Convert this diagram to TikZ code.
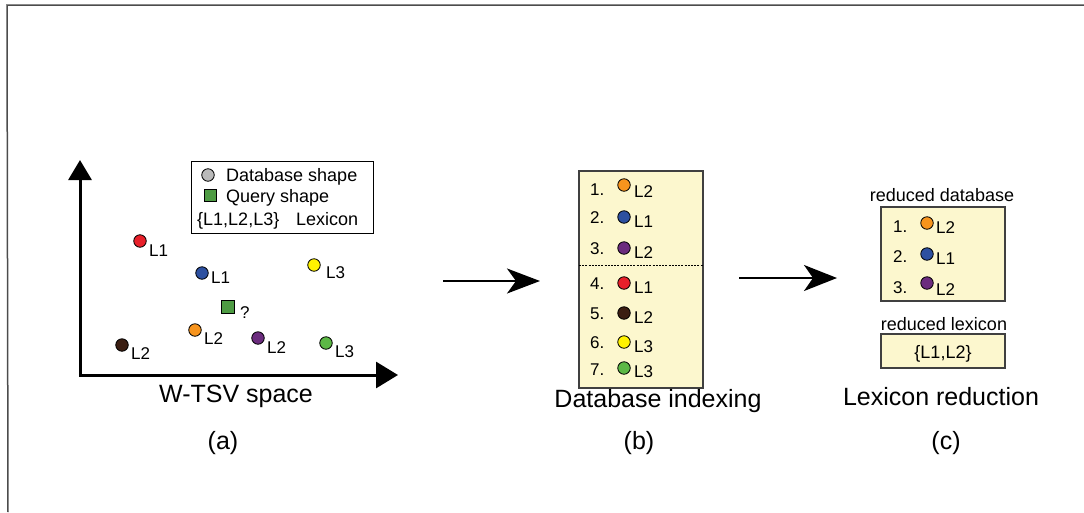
\documentclass[tikz,border=0pt]{standalone}
\usepackage{fontspec}
\setmainfont{Liberation Sans}
\usetikzlibrary{arrows.meta}
\definecolor{ptred}{HTML}{E8202A}
\definecolor{ptblue}{HTML}{2D50A0}
\definecolor{ptyellow}{HTML}{FFF200}
\definecolor{ptorange}{HTML}{F7941D}
\definecolor{ptpurple}{HTML}{6B2C7E}
\definecolor{ptgreen}{HTML}{5CB846}
\definecolor{ptbrown}{HTML}{3B1E12}
\definecolor{qgreen}{HTML}{4E9B43}
\definecolor{cream}{HTML}{FCF7CE}
\begin{document}
\begin{tikzpicture}[x=1pt,y=-1pt,
	dot/.style={circle,draw,line width=0.8pt,inner sep=0pt,minimum size=12.5pt},
	qbox/.style={rectangle,draw,line width=0.8pt,inner sep=0pt,fill=qgreen},
	lab/.style={anchor=base west,inner sep=0pt,font=\fontsize{17}{20}\selectfont},
	leg/.style={anchor=base west,inner sep=0pt,font=\fontsize{18}{21}\selectfont},
	small/.style={anchor=base,inner sep=0pt,font=\fontsize{18}{21}\selectfont},
	big/.style={anchor=base,inner sep=0pt,font=\fontsize{25}{30}\selectfont},
	panel/.style={draw=black!75,line width=1.2pt,fill=cream}]
			\useasboundingbox (0,0) rectangle (1084,512);
			\draw[black!70,line width=1.5pt] (1084,5) -- (7,5) -- (8,512);
			% (a) W-TSV space
			\coordinate (ytip) at (80,160);
			\coordinate (orig) at (80,375);
			\coordinate (xtip) at (398,375);
			\draw[line width=3pt,line join=miter,{Triangle[length=20pt,width=23pt]}-{Triangle[length=22pt,width=26pt]}] (ytip) -- (orig) -- (xtip);
			\draw[line width=1pt] (191,161) rectangle (373,233);
			\draw
			(208,175) node[dot,fill=black!27](gD){} (226,181) node[leg](tD){Database shape}
			(210.5,195.5) node[qbox,minimum size=12pt](gQ){} (226,202) node[leg](tQ){Query shape}
			(197,225) node[leg](tL){\{L1,L2,L3\}} (296,225) node[leg](tX){Lexicon};
			\draw
			(140,241) node[dot,fill=ptred](R){} (149,256) node[lab]{L1}
			(202,273) node[dot,fill=ptblue](B){} (211,283) node[lab]{L1}
			(314,265) node[dot,fill=ptyellow](Y){} (326,278) node[lab]{L3}
			(228,307) node[qbox,minimum size=13.5pt](Q){} (240,318) node[lab]{?}
			(195,330) node[dot,fill=ptorange](O){} (204,344) node[lab]{L2}
			(258,338) node[dot,fill=ptpurple](P){} (267,353) node[lab]{L2}
			(326,343) node[dot,fill=ptgreen](G){} (335,357) node[lab]{L3}
			(122,345) node[dot,fill=ptbrown](K){} (131,359) node[lab]{L2};
			\draw (236,402) node[big](sp){W-TSV space} (223,443) node[big,anchor=center](pa){(a)};
			% arrows
			\coordinate (s1) at (443,281); \coordinate (e1) at (540,281);
			\coordinate (s2) at (739,278); \coordinate (e2) at (837,278);
			\draw[line width=2pt,-{Stealth[length=33pt,width=25pt,inset=9pt]}] (s1) -- (e1);
			\draw[line width=2pt,-{Stealth[length=33pt,width=26pt,inset=9pt]}] (s2) -- (e2);
			% (b) Database indexing
			\draw[panel] (579,171) rectangle (703,388);
			\draw[line width=0.8pt,dash pattern=on 2pt off 1.2pt] (579,265) -- (703,265);
			\draw
			(590,195) node[lab]{1.} (624,185) node[dot,fill=ptorange](b1){} (634,197) node[lab]{L2}
			(590,223) node[lab]{2.} (624,217) node[dot,fill=ptblue](b2){} (634,227) node[lab]{L1}
			(590,254) node[lab]{3.} (624,248) node[dot,fill=ptpurple](b3){} (634,258) node[lab]{L2}
			(590,289) node[lab]{4.} (624,283) node[dot,fill=ptred](b4){} (634,293) node[lab]{L1}
			(590,319) node[lab]{5.} (624,313) node[dot,fill=ptbrown](b5){} (634,323) node[lab]{L2}
			(590,348) node[lab]{6.} (624,342) node[dot,fill=ptyellow](b6){} (634,352) node[lab]{L3}
			(590,375) node[lab]{7.} (624,368) node[dot,fill=ptgreen](b7){} (634,377) node[lab]{L3};
			\draw (658,407) node[big](di){Database indexing} (639,443) node[big,anchor=center](pb){(b)};
			% (c) Lexicon reduction
			\draw (942,201) node[small](rd){reduced database};
			\draw[panel] (881,207) rectangle (1005,301);
			\draw
			(893,232) node[lab]{1.} (927,223) node[dot,fill=ptorange](c1){} (936,233) node[lab]{L2}
			(893,262) node[lab]{2.} (927,254) node[dot,fill=ptblue](c2){} (936,264) node[lab]{L1}
			(893,293) node[lab]{3.} (927,283) node[dot,fill=ptpurple](c3){} (936,295) node[lab]{L2};
			\draw (944,330) node[small](rl){reduced lexicon};
			\draw[panel] (881,334) rectangle (1005,368);
			\draw (943,358) node[small](lx){\{L1,L2\}};
			\draw (941,405) node[big](lr){Lexicon reduction} (946,443) node[big,anchor=center](pc){(c)};
		\end{tikzpicture}
\end{document}
